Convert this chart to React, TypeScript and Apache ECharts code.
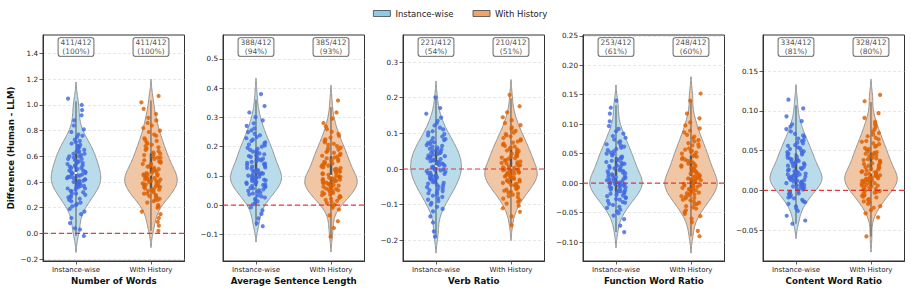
import React, { useEffect, useRef } from 'react';
import * as echarts from 'echarts';

// ---- data ----
const groupNames = ['Instance-wise', 'With History'];
const featureNames = ['Number of Words', 'Average Sentence Length', 'Verb Ratio', 'Function Word Ratio', 'Content Word Ratio'];
const sampleTotal = 412;
const positiveInstance = [411, 388, 221, 253, 334];
const positiveHistory = [411, 385, 210, 248, 328];

const ticksWords = [-0.2, 0, 0.2, 0.4, 0.6, 0.8, 1.0, 1.2, 1.4];
const ticksSentence = [-0.1, 0, 0.1, 0.2, 0.3, 0.4, 0.5];
const ticksVerb = [-0.2, -0.1, 0, 0.1, 0.2, 0.3];
const ticksFunction = [-0.1, -0.05, 0, 0.05, 0.1, 0.15, 0.2, 0.25];
const ticksContent = [-0.05, 0, 0.05, 0.1, 0.15];

const wordsInstance = [
  -0.02, 0.03, 0.04, 0.08, 0.12, 0.15, 0.17, 0.19, 0.21, 0.22, 0.23, 0.24, 0.25, 0.26, 0.27, 0.28, 0.28, 0.29, 0.30, 0.31,
  0.31, 0.32, 0.33, 0.33, 0.34, 0.35, 0.35, 0.36, 0.36, 0.37, 0.37, 0.38, 0.38, 0.39, 0.39, 0.40, 0.40, 0.41, 0.41, 0.42,
  0.42, 0.43, 0.43, 0.44, 0.44, 0.45, 0.45, 0.46, 0.46, 0.47, 0.47, 0.48, 0.48, 0.49, 0.49, 0.50, 0.51, 0.51, 0.52, 0.52,
  0.53, 0.53, 0.54, 0.55, 0.55, 0.56, 0.56, 0.57, 0.58, 0.58, 0.59, 0.60, 0.60, 0.61, 0.62, 0.62, 0.63, 0.64, 0.64, 0.65,
  0.66, 0.67, 0.68, 0.68, 0.69, 0.70, 0.71, 0.72, 0.73, 0.75, 0.76, 0.77, 0.79, 0.81, 0.84, 0.88, 0.92, 0.96, 1.00, 1.05,
];
const wordsHistory = [
  0.02, 0.06, 0.09, 0.12, 0.15, 0.17, 0.20, 0.21, 0.22, 0.24, 0.25, 0.26, 0.26, 0.27, 0.28, 0.29, 0.29, 0.30, 0.31, 0.31,
  0.32, 0.33, 0.33, 0.34, 0.34, 0.35, 0.35, 0.36, 0.36, 0.37, 0.37, 0.38, 0.38, 0.39, 0.39, 0.40, 0.40, 0.41, 0.41, 0.42,
  0.42, 0.42, 0.43, 0.43, 0.44, 0.44, 0.45, 0.45, 0.46, 0.46, 0.46, 0.47, 0.47, 0.48, 0.49, 0.49, 0.50, 0.50, 0.51, 0.52,
  0.52, 0.53, 0.54, 0.54, 0.55, 0.56, 0.56, 0.57, 0.58, 0.59, 0.59, 0.60, 0.61, 0.62, 0.62, 0.63, 0.64, 0.65, 0.66, 0.67,
  0.68, 0.69, 0.70, 0.71, 0.72, 0.73, 0.74, 0.76, 0.77, 0.79, 0.80, 0.82, 0.84, 0.86, 0.88, 0.90, 0.93, 0.97, 1.02, 1.07,
];
const sentenceInstance = [
  -0.072, -0.062, -0.045, -0.030, -0.018, -0.008, 0.003, 0.008, 0.013, 0.018, 0.022, 0.026, 0.030, 0.033, 0.037, 0.040, 0.043, 0.046, 0.049, 0.051,
  0.054, 0.057, 0.059, 0.062, 0.064, 0.066, 0.069, 0.071, 0.073, 0.075, 0.077, 0.079, 0.081, 0.083, 0.085, 0.087, 0.089, 0.091, 0.093, 0.095,
  0.097, 0.099, 0.101, 0.103, 0.105, 0.107, 0.108, 0.110, 0.112, 0.114, 0.116, 0.119, 0.121, 0.124, 0.127, 0.129, 0.132, 0.134, 0.137, 0.140,
  0.142, 0.145, 0.148, 0.151, 0.153, 0.156, 0.159, 0.162, 0.165, 0.168, 0.171, 0.174, 0.177, 0.180, 0.183, 0.186, 0.189, 0.193, 0.196, 0.200,
  0.204, 0.207, 0.211, 0.215, 0.220, 0.224, 0.229, 0.233, 0.239, 0.244, 0.250, 0.256, 0.263, 0.271, 0.280, 0.290, 0.301, 0.317, 0.339, 0.380,
];
const sentenceHistory = [
  -0.108, -0.078, -0.055, -0.035, -0.015, -0.009, -0.003, 0.002, 0.007, 0.011, 0.015, 0.018, 0.022, 0.025, 0.028, 0.031, 0.034, 0.036, 0.039, 0.042,
  0.044, 0.046, 0.049, 0.051, 0.053, 0.055, 0.057, 0.059, 0.061, 0.063, 0.065, 0.067, 0.069, 0.071, 0.073, 0.075, 0.077, 0.078, 0.080, 0.082,
  0.084, 0.085, 0.087, 0.089, 0.091, 0.092, 0.094, 0.096, 0.097, 0.099, 0.101, 0.104, 0.106, 0.109, 0.111, 0.114, 0.116, 0.119, 0.122, 0.124,
  0.127, 0.129, 0.132, 0.135, 0.137, 0.140, 0.143, 0.145, 0.148, 0.151, 0.154, 0.157, 0.160, 0.163, 0.166, 0.169, 0.172, 0.176, 0.179, 0.182,
  0.186, 0.190, 0.194, 0.197, 0.202, 0.206, 0.210, 0.215, 0.220, 0.225, 0.231, 0.237, 0.244, 0.251, 0.260, 0.270, 0.281, 0.296, 0.317, 0.358,
];
const verbInstance = [
  -0.190, -0.175, -0.150, -0.133, -0.119, -0.112, -0.106, -0.100, -0.095, -0.090, -0.086, -0.082, -0.078, -0.075, -0.071, -0.068, -0.065, -0.062, -0.059, -0.057,
  -0.054, -0.051, -0.049, -0.046, -0.044, -0.041, -0.039, -0.037, -0.035, -0.032, -0.030, -0.028, -0.026, -0.024, -0.022, -0.020, -0.018, -0.016, -0.014, -0.012,
  -0.010, -0.008, -0.006, -0.004, -0.002, -0.001, 0.001, 0.003, 0.005, 0.007, 0.009, 0.011, 0.013, 0.015, 0.016, 0.018, 0.020, 0.022, 0.024, 0.026,
  0.028, 0.030, 0.032, 0.034, 0.036, 0.038, 0.040, 0.042, 0.045, 0.046, 0.048, 0.051, 0.053, 0.055, 0.057, 0.060, 0.062, 0.065, 0.067, 0.070,
  0.073, 0.075, 0.078, 0.081, 0.084, 0.087, 0.091, 0.094, 0.098, 0.102, 0.106, 0.111, 0.116, 0.122, 0.128, 0.135, 0.144, 0.155, 0.171, 0.201,
];
const verbHistory = [
  -0.158, -0.133, -0.120, -0.110, -0.103, -0.097, -0.092, -0.087, -0.083, -0.079, -0.076, -0.072, -0.069, -0.066, -0.064, -0.061, -0.058, -0.056, -0.054, -0.051,
  -0.049, -0.047, -0.045, -0.043, -0.041, -0.039, -0.037, -0.035, -0.033, -0.031, -0.030, -0.028, -0.026, -0.024, -0.023, -0.021, -0.019, -0.018, -0.016, -0.014,
  -0.013, -0.011, -0.010, -0.008, -0.007, -0.005, -0.003, -0.002, -0.001, 0.001, 0.003, 0.005, 0.007, 0.009, 0.011, 0.013, 0.015, 0.017, 0.019, 0.021,
  0.023, 0.025, 0.028, 0.030, 0.032, 0.034, 0.036, 0.038, 0.041, 0.043, 0.045, 0.047, 0.050, 0.052, 0.055, 0.057, 0.060, 0.063, 0.065, 0.068,
  0.071, 0.074, 0.077, 0.080, 0.083, 0.087, 0.091, 0.094, 0.098, 0.102, 0.107, 0.112, 0.117, 0.123, 0.129, 0.137, 0.145, 0.159, 0.176, 0.208,
];
const functionInstance = [
  -0.083, -0.072, -0.061, -0.055, -0.051, -0.048, -0.045, -0.042, -0.040, -0.037, -0.035, -0.033, -0.032, -0.030, -0.028, -0.027, -0.025, -0.024, -0.022, -0.021,
  -0.020, -0.018, -0.017, -0.016, -0.015, -0.014, -0.013, -0.012, -0.011, -0.009, -0.008, -0.007, -0.006, -0.005, -0.004, -0.003, -0.002, -0.001, -0.001, 0.001,
  0.001, 0.002, 0.003, 0.004, 0.005, 0.006, 0.007, 0.008, 0.009, 0.010, 0.011, 0.012, 0.013, 0.015, 0.016, 0.017, 0.018, 0.020, 0.021, 0.022,
  0.024, 0.025, 0.026, 0.028, 0.029, 0.030, 0.032, 0.033, 0.035, 0.036, 0.038, 0.039, 0.041, 0.042, 0.044, 0.045, 0.047, 0.049, 0.050, 0.052,
  0.054, 0.056, 0.058, 0.060, 0.062, 0.064, 0.066, 0.069, 0.071, 0.074, 0.077, 0.080, 0.084, 0.088, 0.092, 0.097, 0.105, 0.118, 0.128, 0.140,
];
const functionHistory = [
  -0.090, -0.081, -0.066, -0.060, -0.056, -0.052, -0.049, -0.046, -0.043, -0.041, -0.039, -0.036, -0.035, -0.033, -0.031, -0.029, -0.028, -0.026, -0.025, -0.023,
  -0.022, -0.021, -0.019, -0.018, -0.017, -0.016, -0.014, -0.013, -0.012, -0.011, -0.010, -0.009, -0.008, -0.006, -0.005, -0.004, -0.003, -0.002, -0.001, -0.001,
  0.001, 0.002, 0.003, 0.004, 0.005, 0.006, 0.007, 0.008, 0.009, 0.009, 0.011, 0.012, 0.013, 0.015, 0.016, 0.018, 0.019, 0.020, 0.022, 0.023,
  0.025, 0.026, 0.028, 0.029, 0.030, 0.032, 0.033, 0.035, 0.037, 0.038, 0.040, 0.041, 0.043, 0.045, 0.046, 0.048, 0.050, 0.052, 0.053, 0.055,
  0.057, 0.059, 0.062, 0.064, 0.066, 0.068, 0.071, 0.073, 0.076, 0.079, 0.082, 0.086, 0.089, 0.093, 0.098, 0.103, 0.110, 0.118, 0.140, 0.152,
];
const contentInstance = [
  -0.042, -0.038, -0.032, -0.026, -0.023, -0.020, -0.017, -0.015, -0.014, -0.012, -0.010, -0.009, -0.008, -0.006, -0.005, -0.004, -0.003, -0.002, -0.001, 0.001,
  0.002, 0.003, 0.003, 0.004, 0.005, 0.006, 0.006, 0.007, 0.008, 0.009, 0.009, 0.010, 0.011, 0.011, 0.012, 0.013, 0.013, 0.014, 0.015, 0.015,
  0.016, 0.017, 0.017, 0.018, 0.019, 0.019, 0.020, 0.020, 0.021, 0.022, 0.023, 0.023, 0.024, 0.025, 0.026, 0.027, 0.028, 0.029, 0.030, 0.031,
  0.032, 0.033, 0.034, 0.034, 0.035, 0.036, 0.037, 0.038, 0.039, 0.040, 0.041, 0.042, 0.044, 0.045, 0.046, 0.047, 0.048, 0.049, 0.050, 0.052,
  0.053, 0.054, 0.056, 0.057, 0.059, 0.060, 0.062, 0.063, 0.065, 0.067, 0.069, 0.071, 0.074, 0.077, 0.080, 0.083, 0.087, 0.093, 0.103, 0.114,
];
const contentHistory = [
  -0.058, -0.034, -0.029, -0.025, -0.022, -0.020, -0.017, -0.015, -0.014, -0.012, -0.011, -0.009, -0.008, -0.007, -0.006, -0.004, -0.003, -0.002, -0.001, -0.001,
  0.001, 0.001, 0.002, 0.003, 0.004, 0.005, 0.006, 0.006, 0.007, 0.008, 0.009, 0.009, 0.010, 0.011, 0.012, 0.012, 0.013, 0.014, 0.014, 0.015,
  0.016, 0.016, 0.017, 0.018, 0.018, 0.019, 0.020, 0.020, 0.021, 0.022, 0.023, 0.023, 0.024, 0.025, 0.026, 0.027, 0.028, 0.029, 0.030, 0.031,
  0.032, 0.033, 0.034, 0.035, 0.036, 0.037, 0.038, 0.039, 0.040, 0.041, 0.043, 0.044, 0.045, 0.046, 0.047, 0.048, 0.049, 0.051, 0.052, 0.053,
  0.055, 0.056, 0.058, 0.059, 0.061, 0.062, 0.064, 0.066, 0.068, 0.070, 0.072, 0.074, 0.077, 0.080, 0.083, 0.086, 0.091, 0.097, 0.112, 0.120,
];

// ---- panel setup ----
const panels = [
  { groups: [wordsInstance, wordsHistory], ticks: ticksWords, decimals: 1, yMin: -0.215, yMax: 1.545 },
  { groups: [sentenceInstance, sentenceHistory], ticks: ticksSentence, decimals: 1, yMin: -0.191, yMax: 0.582 },
  { groups: [verbInstance, verbHistory], ticks: ticksVerb, decimals: 1, yMin: -0.258, yMax: 0.3758 },
  { groups: [functionInstance, functionHistory], ticks: ticksFunction, decimals: 2, yMin: -0.132, yMax: 0.2513 },
  { groups: [contentInstance, contentHistory], ticks: ticksContent, decimals: 2, yMin: -0.0889, yMax: 0.1953 },
];

const FONT = 'DejaVu Sans';
const violinFill = ['#badcea', '#f0c6a5'];
const legendFill = ['#8ecbe6', '#f2a466'];
const pointColor = ['#4169e1', '#dd6000'];
const HALF_WIDTH = 0.35;
const JITTER = 0.13;
const X_MIN = -0.44;
const X_MAX = 1.447;

type Profile = { ys: number[]; ds: number[] };

// Gaussian KDE with Scott's bandwidth, extended two bandwidths past the data (cut = 2)
function kde(values: number[]): Profile {
  const n = values.length;
  const mean = values.reduce((a, b) => a + b, 0) / n;
  const sd = Math.sqrt(values.reduce((a, b) => a + (b - mean) * (b - mean), 0) / (n - 1));
  const bw = sd * Math.pow(sampleTotal, -0.2);
  const lo = Math.min(...values) - 2 * bw;
  const hi = Math.max(...values) + 2 * bw;
  const steps = 140;
  const ys: number[] = [];
  const ds: number[] = [];
  for (let k = 0; k <= steps; k++) {
    const y = lo + ((hi - lo) * k) / steps;
    let d = 0;
    for (const v of values) {
      const z = (y - v) / bw;
      d += Math.exp(-0.5 * z * z);
    }
    ys.push(y);
    ds.push(d / n);
  }
  return { ys, ds };
}

function quantile(sorted: number[], q: number) {
  const pos = (sorted.length - 1) * q;
  const lo = Math.floor(pos);
  const hi = Math.ceil(pos);
  return sorted[lo] + (sorted[hi] - sorted[lo]) * (pos - lo);
}

function boxStats(values: number[]) {
  const s = [...values].sort((a, b) => a - b);
  const q1 = quantile(s, 0.25);
  const med = quantile(s, 0.5);
  const q3 = quantile(s, 0.75);
  const iqr = q3 - q1;
  const lo = Math.max(s[0], q1 - 1.5 * iqr);
  const hi = Math.min(s[s.length - 1], q3 + 1.5 * iqr);
  return { q1, med, q3, lo, hi };
}

// deterministic horizontal spread for the strip points
function jitterOffset(k: number, seed: number) {
  const s = Math.sin(k * 127.1 + seed * 311.7 + 1.3) * 43758.5453;
  return ((s - Math.floor(s)) * 2 - 1) * JITTER;
}

function yLabel(decimals: number) {
  return (v: number) => {
    const s = Math.abs(v).toFixed(decimals);
    return v < -1e-9 ? '\u2212' + s : s;
  };
}

function buildOption() {
  const grids: any[] = [];
  const xAxes: any[] = [];
  const yAxes: any[] = [];
  const series: any[] = [];

  panels.forEach((p, i) => {
    grids.push({
      left: 43 + 180 * i,
      top: 35,
      width: 141.5,
      height: 226,
      show: true,
      borderColor: '#333',
      borderWidth: 1,
      backgroundColor: 'transparent',
      containLabel: false,
      outerBoundsMode: 'none',
    });
    xAxes.push({
      type: 'value',
      gridIndex: i,
      min: X_MIN,
      max: X_MAX,
      axisLine: { show: true, onZero: false, lineStyle: { color: '#333', width: 1 } },
      axisTick: { show: true, customValues: [0, 1], length: 3.5, lineStyle: { color: '#333', width: 0.8 } },
      axisLabel: {
        customValues: [0, 1],
        formatter: (v: number) => groupNames[Math.round(v)],
        fontSize: 7,
        margin: 5,
        color: '#222',
        fontFamily: FONT,
      },
      splitLine: { show: false },
      name: featureNames[i],
      nameLocation: 'middle',
      nameGap: 15,
      nameMoveOverlap: false,
      nameTextStyle: { fontWeight: 'bold', fontSize: 8.7, color: '#111', fontFamily: FONT },
    });
    yAxes.push({
      type: 'value',
      gridIndex: i,
      min: p.yMin,
      max: p.yMax,
      axisLine: { show: true, onZero: false, lineStyle: { color: '#333', width: 1 } },
      axisTick: { show: true, customValues: p.ticks, length: 3.5, lineStyle: { color: '#333', width: 0.8 } },
      axisLabel: {
        customValues: p.ticks,
        formatter: yLabel(p.decimals),
        fontSize: 7.2,
        margin: 5,
        color: '#222',
        fontFamily: FONT,
      },
      splitLine: { show: true, lineStyle: { color: '#dcdcdc', type: [3, 2], width: 0.7 } },
      name: i === 0 ? 'Difference (Human - LLM)' : '',
      nameLocation: 'middle',
      nameGap: 28,
      nameMoveOverlap: false,
      nameTextStyle: { fontWeight: 'bold', fontSize: 8.5, color: '#111', fontFamily: FONT },
    });

    const profiles = p.groups.map(kde);
    const maxD = Math.max(...profiles.map((pr) => Math.max(...pr.ds)));
    const stats = p.groups.map(boxStats);

    p.groups.forEach((values, g) => {
      const prof = profiles[g];
      const st = stats[g];
      series.push({
        type: 'custom',
        name: groupNames[g],
        xAxisIndex: i,
        yAxisIndex: i,
        z: 2,
        silent: true,
        data: [[g, st.med]],
        renderItem: (_params: any, api: any) => {
          const c = api.value(0) as number;
          const right = prof.ys.map((y, k) => api.coord([c + (HALF_WIDTH * prof.ds[k]) / maxD, y]));
          const left = prof.ys.map((y, k) => api.coord([c - (HALF_WIDTH * prof.ds[k]) / maxD, y])).reverse();
          const wLo = api.coord([c, st.lo]);
          const wHi = api.coord([c, st.hi]);
          const bLo = api.coord([c, st.q1]);
          const bHi = api.coord([c, st.q3]);
          const m = api.coord([c, st.med]);
          return {
            type: 'group',
            children: [
              {
                type: 'polygon',
                shape: { points: right.concat(left) },
                style: { fill: violinFill[g], stroke: '#8a8a8a', lineWidth: 0.9 },
              },
              {
                type: 'line',
                shape: { x1: wLo[0], y1: wLo[1], x2: wHi[0], y2: wHi[1] },
                style: { stroke: '#555', lineWidth: 1 },
              },
              {
                type: 'line',
                shape: { x1: bLo[0], y1: bLo[1], x2: bHi[0], y2: bHi[1] },
                style: { stroke: '#555', lineWidth: 2.5 },
              },
              { type: 'circle', shape: { cx: m[0], cy: m[1], r: 1.2 }, style: { fill: '#fff' } },
            ],
          };
        },
      });
      series.push({
        type: 'scatter',
        name: groupNames[g] + ' samples',
        xAxisIndex: i,
        yAxisIndex: i,
        z: 3,
        silent: true,
        symbolSize: 4.2,
        itemStyle: { color: pointColor[g], opacity: 0.82 },
        data: values.map((v, k) => [g + jitterOffset(k, i * 2 + g), v]),
      });
    });

    // red dashed reference line at zero difference
    series.push({
      type: 'custom',
      name: 'zero',
      xAxisIndex: i,
      yAxisIndex: i,
      z: 6,
      silent: true,
      data: [[0, 0]],
      renderItem: (_params: any, api: any) => {
        const a = api.coord([X_MIN, 0]);
        const b = api.coord([X_MAX, 0]);
        return {
          type: 'line',
          shape: { x1: a[0], y1: a[1], x2: b[0], y2: b[1] },
          style: { stroke: 'rgba(228,26,28,0.85)', lineWidth: 1.2, lineDash: [5, 3] },
        };
      },
    });

    const annY = p.yMax - 0.053 * (p.yMax - p.yMin);
    const positives = [positiveInstance[i], positiveHistory[i]];
    series.push({
      type: 'scatter',
      name: 'counts',
      xAxisIndex: i,
      yAxisIndex: i,
      z: 10,
      silent: true,
      symbolSize: 1,
      itemStyle: { color: 'transparent' },
      data: [[0, annY], [1, annY]],
      label: {
        show: true,
        position: 'inside',
        formatter: (prm: any) => {
          const pos = positives[prm.dataIndex];
          return `${pos}/${sampleTotal}\n(${Math.round((pos / sampleTotal) * 100)}%)`;
        },
        fontSize: 7.5,
        lineHeight: 8.5,
        color: '#222',
        fontFamily: FONT,
        align: 'center',
        backgroundColor: '#fff',
        borderColor: '#333',
        borderWidth: 0.8,
        borderRadius: 2,
        padding: [1, 2, 0, 2],
      },
    });
  });

  return {
    animation: false,
    backgroundColor: '#fff',
    textStyle: { fontFamily: FONT },
    legend: {
      top: 4,
      left: 368,
      itemWidth: 17,
      itemHeight: 6,
      itemGap: 19,
      selectedMode: false,
      textStyle: { fontSize: 8.5, color: '#222', fontFamily: FONT },
      data: groupNames.map((n, g) => ({
        name: n,
        icon: 'rect',
        itemStyle: { color: legendFill[g], borderColor: '#444', borderWidth: 0.8 },
      })),
    },
    grid: grids,
    xAxis: xAxes,
    yAxis: yAxes,
    series,
  };
}

export default function App() {
  const ref = useRef<HTMLDivElement>(null);
  useEffect(() => {
    if (!ref.current) return;
    const chart = echarts.init(ref.current, undefined, { renderer: 'svg' });
    chart.setOption(buildOption() as any);
    return () => chart.dispose();
  }, []);
  return (
    <div
      ref={ref}
      style={{ position: 'fixed', left: 0, top: 0, width: 911, height: 292, background: '#fff' }}
    />
  );
}
